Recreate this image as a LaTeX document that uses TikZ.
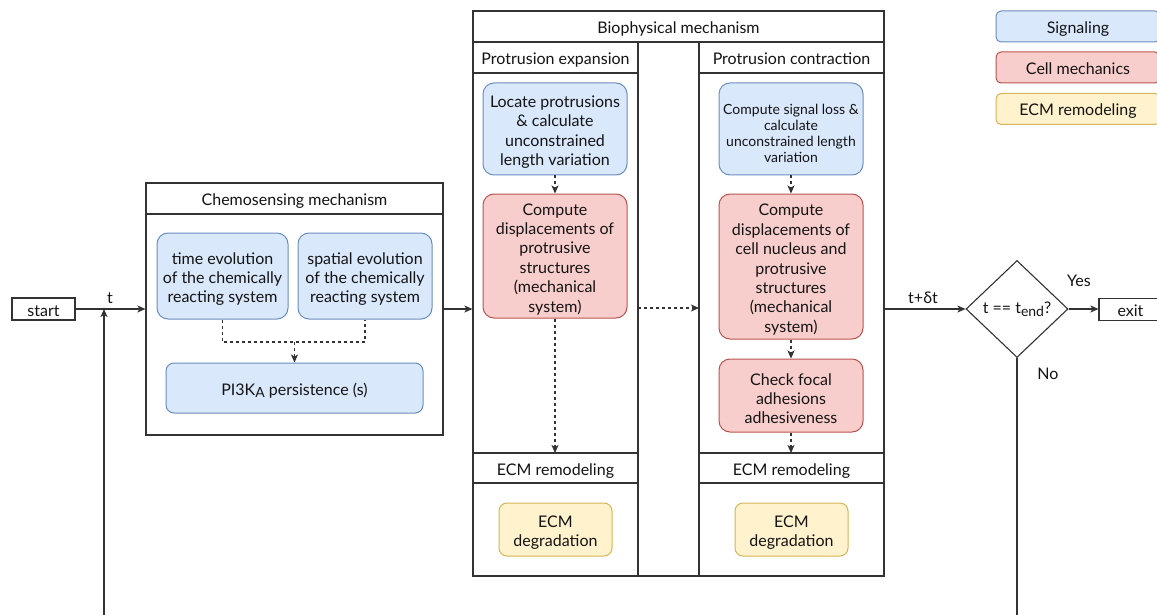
\documentclass[tikz,border=0pt]{standalone}
\usepackage{fontspec}
\setmainfont{Lato}
\usetikzlibrary{shapes.geometric,arrows.meta}
\definecolor{lnc}{HTML}{333333}
\definecolor{txt}{HTML}{141414}
\definecolor{sigf}{HTML}{DAE8FC}
\definecolor{sigd}{HTML}{6C8EBF}
\definecolor{mecf}{HTML}{F8CECC}
\definecolor{mecd}{HTML}{B85450}
\definecolor{ecmf}{HTML}{FFF2CC}
\definecolor{ecmd}{HTML}{D6B656}
\newcommand{\lowsub}[1]{\raisebox{-0.35ex}{\fontsize{14}{14}\selectfont #1}}
\newcommand{\fs}[1][18pt]{\rule{0pt}{#1}}
\begin{document}
\begin{tikzpicture}[x=1pt,y=-1pt,
  font=\fontsize{16}{19.4}\selectfont,
  every node/.style={text=txt},
  tfix/.style={execute at begin node={\rule{0pt}{#1}}, execute at end node={\rule[-4pt]{0pt}{0pt}}},
  tfix/.default=18pt,
  arr/.style={-{Stealth[length=8pt,width=7pt,inset=2pt]}, draw=lnc, line width=1.1pt},
  darr/.style={arr, dash pattern=on 3pt off 3pt},
  plain/.style={draw=lnc, line width=1.1pt},
  dline/.style={draw=lnc, line width=1.1pt, dash pattern=on 3pt off 3pt},
  box/.style={draw=lnc, fill=white, line width=1.1pt, inner sep=0pt, tfix},
  lbl/.style={inner sep=0pt, tfix},
  sig/.style={draw=sigd, fill=sigf, rounded corners=11pt, line width=1pt, align=center, inner sep=0pt},
  mec/.style={draw=mecd, fill=mecf, rounded corners=11pt, line width=1pt, align=center, inner sep=0pt},
  ecm/.style={draw=ecmd, fill=ecmf, rounded corners=8pt, line width=1pt, align=center, inner sep=0pt},
]
\clip (0,0) rectangle (1157,615);
\fill[white] (0,0) rectangle (1157,615);

% start and loop
\node[box, minimum width=63pt, minimum height=22pt] (start) at (43.5,309) {start};
\node[lbl] (tlab) at (110,296) {t};

% chemosensing container
\node[box, minimum width=297pt, minimum height=252pt, tfix=0pt] (chemo) at (294.5,309) {};
\draw[plain] (146,214) -- (443,214);
\node[lbl] (chemoT) at (294.5,198.5) {Chemosensing mechanism};
\node[sig, minimum width=131pt, minimum height=86pt] (time) at (222.5,276) {\fs time evolution\\of the chemically\\reacting system};
\node[sig, minimum width=134pt, minimum height=86pt] (spat) at (365,276) {\fs spatial evolution\\of the chemically\\reacting system};
\node[sig, tfix, rounded corners=8pt, minimum width=257pt, minimum height=50pt] (pik) at (294.5,388) {PI3K\lowsub{A} persistence (s)};
\coordinate (join) at (294.5,342);
\draw[dline] (time.south) |- (join) -| (spat.south);
\draw[darr] (join) -- (pik.north);

% biophysical container
\node[box, minimum width=411pt, minimum height=565pt, tfix=0pt] (bio) at (678.5,293.5) {};
\draw[plain] (473,42) -- (884,42);
\draw[plain] (638,42) -- (638,576);
\draw[plain] (699,42) -- (699,576);
\draw[plain] (473,73) -- (638,73);
\draw[plain] (699,73) -- (884,73);
\draw[plain] (473,453) -- (638,453);
\draw[plain] (473,483) -- (638,483);
\draw[plain] (699,453) -- (884,453);
\draw[plain] (699,483) -- (884,483);
\node[lbl] (bioT) at (678.5,27) {Biophysical mechanism};
\node[lbl] (expT) at (555.5,57.5) {Protrusion expansion};
\node[lbl] (conT) at (791.5,57.5) {Protrusion contraction};
\node[lbl] (remL) at (555.5,468) {ECM remodeling};
\node[lbl] (remR) at (791.5,468) {ECM remodeling};

\node[sig, minimum width=144pt, minimum height=92pt] (loc) at (555,129) {\fs Locate protrusions\\\& calculate\\unconstrained\\length variation};
\node[mec, minimum width=144pt, minimum height=124pt] (dispA) at (555,256) {\fs Compute\\displacements of\\protrusive\\structures\\(mechanical\\system)};
\node[sig, minimum width=144pt, minimum height=92pt, font=\fontsize{14}{16.2}\selectfont] (sgl) at (791,129) {\fs[19pt]Compute signal loss \&\\calculate\\unconstrained length\\variation};
\node[mec, minimum width=144pt, minimum height=145pt] (dispB) at (791,266.5) {\fs Compute\\displacements of\\cell nucleus and\\protrusive\\structures\\(mechanical\\system)};
\node[mec, minimum width=144pt, minimum height=73pt] (foc) at (791,395.5) {\fs Check focal\\adhesions\\adhesiveness};
\node[ecm, minimum width=113pt, minimum height=53pt] (ecmA) at (555.5,529.5) {\fs ECM\\degradation};
\node[ecm, minimum width=113pt, minimum height=53pt] (ecmB) at (791.5,529.5) {\fs ECM\\degradation};

\coordinate (remLtop) at (555,453);
\coordinate (remRtop) at (791,453);
\coordinate (expR) at (638,308);
\coordinate (conL) at (699,308);
\draw[darr] (loc) -- (dispA);
\draw[darr] (dispA) -- (remLtop);
\draw[darr] (expR) -- (conL);
\draw[darr] (sgl) -- (dispB);
\draw[darr] (dispB) -- (foc);
\draw[darr] (foc) -- (remRtop);

% decision
\node[shape=diamond, draw=lnc, fill=white, line width=1.1pt, inner sep=0pt, minimum width=102pt, minimum height=97pt, aspect=1.05] (dia) at (1017,309) {t == t\lowsub{end}?};
\node[box, minimum width=63pt, minimum height=22pt] (exit) at (1130.5,309.5) {exit};
\node[lbl] (dtlab) at (923,296) {t+δt};
\node[lbl] (yes) at (1079,279) {Yes};
\node[lbl] (no) at (1048,372) {No};

% main flow
\coordinate (loopT) at (104,309);
\coordinate (loopB) at (104,620);
\coordinate (noB) at (1017,620);
\draw[arr] (start) -- (chemo.west);
\draw[arr] (loopB) -- (loopT);
\draw[arr] (chemo.east) -- (chemo.east -| bio.west);
\draw[arr] (bio.east |- dia.west) -- (dia.west);
\draw[arr] (dia.east) -- (exit.west |- dia.east);
\draw[plain] (dia.south) -- (noB);

% legend
\node[sig, tfix, rounded corners=5pt, minimum width=164pt, minimum height=31pt] (legS) at (1078,26.5) {Signaling};
\node[mec, tfix, rounded corners=5pt, minimum width=164pt, minimum height=31pt] (legM) at (1078,67.5) {Cell mechanics};
\node[ecm, tfix, rounded corners=5pt, minimum width=164pt, minimum height=31pt] (legE) at (1078,109) {ECM remodeling};
\end{tikzpicture}
\end{document}
